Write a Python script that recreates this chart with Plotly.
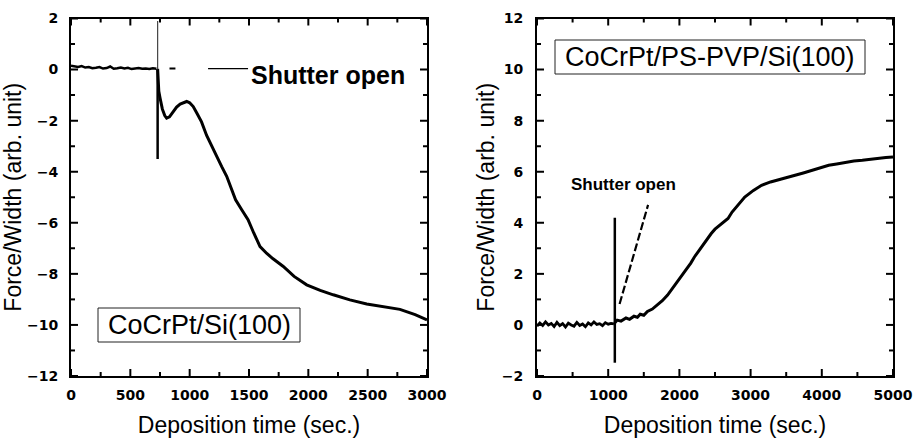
import plotly.graph_objects as go

# ---------------- data: left panel (CoCrPt/Si(100)) ----------------
left_base_time = [0, 30, 60, 90, 120, 150, 180, 210, 240, 270, 300, 330, 360, 390,
                  420, 450, 480, 510, 540, 570, 600, 630, 660, 690, 720]
left_base_force = [0.15, 0.12, 0.10, 0.14, 0.08, 0.10, 0.05, 0.07, 0.10, 0.04, 0.06, 0.12,
                   0.03, 0.05, 0.08, 0.04, 0.07, 0.02, 0.05, 0.06, 0.03, 0.04, 0.02, 0.05, 0.03]
left_dep_time = [730, 740, 750, 770, 790, 806, 830, 860, 890, 920, 950, 975, 1000, 1030,
                 1060, 1100, 1143, 1190, 1228, 1270, 1312, 1350, 1387, 1440, 1492, 1540,
                 1593, 1650, 1700, 1789, 1880, 1986, 2100, 2210, 2350, 2492, 2640, 2772,
                 2900, 3000]
left_dep_force = [0.03, -0.85, -1.1, -1.55, -1.8, -1.9, -1.85, -1.65, -1.47, -1.35, -1.28,
                  -1.25, -1.3, -1.45, -1.7, -2.05, -2.58, -3.05, -3.4, -3.8, -4.18, -4.65,
                  -5.1, -5.5, -5.88, -6.4, -6.93, -7.2, -7.4, -7.71, -8.1, -8.43, -8.65,
                  -8.82, -9.02, -9.18, -9.3, -9.39, -9.6, -9.8]
left_shutter_time = 730
left_spike_top = 1.9
left_spike_bottom = -3.5
left_leader_time = [1155, 1492]
left_leader_force = [0.04, 0.04]
left_dash_time = [830, 880]
left_dash_force = [0.04, 0.04]

# ---------------- data: right panel (CoCrPt/PS-PVP/Si(100)) ----------------
right_base_time = [0, 40, 80, 120, 160, 200, 240, 280, 320, 360, 400, 440, 480, 520, 560,
                   600, 640, 680, 720, 760, 800, 840, 880, 920, 960, 1000, 1040, 1080]
right_base_force = [-0.05, 0.08, -0.02, 0.12, 0.0, 0.06, -0.06, 0.1, -0.03, 0.05, -0.08,
                    0.07, 0.0, -0.05, 0.1, -0.02, 0.04, -0.07, 0.08, 0.0, 0.12, 0.02, 0.05,
                    -0.03, 0.09, 0.03, 0.06, 0.04]
right_dep_time = [1093, 1127, 1180, 1250, 1300, 1362, 1410, 1450, 1500, 1551, 1620, 1693,
                  1760, 1834, 1900, 1976, 2040, 2100, 2160, 2211, 2270, 2330, 2390, 2447,
                  2500, 2560, 2620, 2683, 2740, 2800, 2860, 2918, 3040, 3154, 3280, 3400,
                  3520, 3625, 3740, 3860, 3980, 4097, 4210, 4330, 4450, 4569, 4690, 4800,
                  4900, 5000]
right_dep_force = [0.08, 0.19, 0.15, 0.27, 0.22, 0.34, 0.3, 0.42, 0.38, 0.53, 0.62, 0.78,
                   0.95, 1.17, 1.42, 1.75, 1.95, 2.2, 2.42, 2.66, 2.9, 3.12, 3.38, 3.58,
                   3.75, 3.9, 4.02, 4.17, 4.42, 4.62, 4.85, 5.01, 5.27, 5.47, 5.6, 5.7,
                   5.8, 5.86, 5.95, 6.06, 6.16, 6.25, 6.3, 6.37, 6.42, 6.45, 6.5, 6.52,
                   6.56, 6.58]
right_shutter_time = 1093
right_spike_top = 4.2
right_spike_bottom = -1.48
right_leader_time = [1160, 1560]
right_leader_force = [0.82, 4.7]

left_xrange = [0, 3000]
left_yrange = [-12, 2]
right_xrange = [0, 5000]
right_yrange = [-2, 12]
left_xticks = [0, 500, 1000, 1500, 2000, 2500, 3000]
left_xminor = [250, 750, 1250, 1750, 2250, 2750]
left_yticks = [2, 0, -2, -4, -6, -8, -10, -12]
left_yminor = [1, -1, -3, -5, -7, -9, -11]
right_xticks = [0, 1000, 2000, 3000, 4000, 5000]
right_xminor = [500, 1500, 2500, 3500, 4500]
right_yticks = [-2, 0, 2, 4, 6, 8, 10, 12]
right_yminor = [-1, 1, 3, 5, 7, 9, 11]

x_title = "Deposition time (sec.)"
y_title = "Force/Width (arb. unit)"
left_label = "CoCrPt/Si(100)"
right_label = "CoCrPt/PS-PVP/Si(100)"
shutter_text = "Shutter open"

fig = go.Figure()
BLK = "black"

YDOM = [1 - 376 / 438, 1 - 18.5 / 438]
XDOM_L = [71 / 913, 427 / 913]
XDOM_R = [537 / 913, 893 / 913]
PLOT_H = (YDOM[1] - YDOM[0]) * 438
PLOT_W = (XDOM_L[1] - XDOM_L[0]) * 913


def add_line(x, y, xa, ya, w, dash="solid", color=BLK):
    fig.add_trace(go.Scatter(x=x, y=y, xaxis=xa, yaxis=ya, mode="lines",
                             line=dict(color=color, width=w, dash=dash),
                             showlegend=False, hoverinfo="skip"))


add_line(left_base_time, left_base_force, "x", "y", 2.5)
add_line(left_dep_time, left_dep_force, "x", "y", 3)
add_line([left_shutter_time, left_shutter_time], [0, left_spike_top], "x", "y", 1.2, color="#444")
add_line([left_shutter_time, left_shutter_time], [0, left_spike_bottom], "x", "y", 2.5)
add_line(left_leader_time, left_leader_force, "x", "y", 1.2)
add_line(left_dash_time, left_dash_force, "x", "y", 2)

add_line(right_base_time, right_base_force, "x2", "y2", 2.8)
add_line(right_dep_time, right_dep_force, "x2", "y2", 3)
add_line([right_shutter_time, right_shutter_time], [right_spike_bottom, right_spike_top], "x2", "y2", 2.5)
add_line(right_leader_time, right_leader_force, "x2", "y2", 2.2, dash="8px,3px")


# inward tick marks on all four sides, built from the tick lists
def add_ticks(xa, ya, xr, yr, xmaj, xmin, ymaj, ymin):
    y_per_px = (yr[1] - yr[0]) / PLOT_H
    x_per_px = (xr[1] - xr[0]) / PLOT_W
    tx, ty = [], []
    for vals, L in [(xmaj, 7), (xmin, 4)]:
        d = L * y_per_px
        for v in vals:
            tx += [v, v, None, v, v, None]
            ty += [yr[0], yr[0] + d, None, yr[1], yr[1] - d, None]
    for vals, L in [(ymaj, 7), (ymin, 4)]:
        d = L * x_per_px
        for v in vals:
            tx += [xr[0], xr[0] + d, None, xr[1], xr[1] - d, None]
            ty += [v, v, None, v, v, None]
    fig.add_trace(go.Scatter(x=tx, y=ty, xaxis=xa, yaxis=ya, mode="lines",
                             line=dict(color=BLK, width=2), connectgaps=False,
                             showlegend=False, hoverinfo="skip"))


add_ticks("x", "y", left_xrange, left_yrange, left_xticks, left_xminor, left_yticks, left_yminor)
add_ticks("x2", "y2", right_xrange, right_yrange, right_xticks, right_xminor, right_yticks, right_yminor)

tickfont = dict(family="DejaVu Sans", size=14, color=BLK, weight="bold")
titlefont = dict(family="Liberation Sans, Arial", size=23, color=BLK)

main_common = dict(showline=True, linecolor=BLK, linewidth=2, mirror=True,
                   ticks="outside", tickcolor="rgba(0,0,0,0)",
                   showgrid=False, zeroline=False, tickfont=tickfont, automargin=False,
                   ticklabeloverflow="allow")

fig.update_layout(
    width=913, height=438,
    margin=dict(l=0, r=0, t=0, b=0),
    paper_bgcolor="white", plot_bgcolor="white",
    xaxis=dict(main_common, domain=XDOM_L, range=left_xrange, anchor="y", ticklen=5,
               tickvals=left_xticks, title=dict(text=x_title, font=titlefont, standoff=19)),
    yaxis=dict(main_common, domain=YDOM, range=left_yrange, anchor="x", ticklen=8,
               tickvals=left_yticks, title=dict(text=y_title, font=titlefont, standoff=1)),
    xaxis2=dict(main_common, domain=XDOM_R, range=right_xrange, anchor="y2", ticklen=5,
                tickvals=right_xticks, title=dict(text=x_title, font=titlefont, standoff=19)),
    yaxis2=dict(main_common, domain=YDOM, range=right_yrange, anchor="x2", ticklen=9,
                tickvals=right_yticks, title=dict(text=y_title, font=titlefont, standoff=1)),
)

for (x0, y0, x1, y1) in [(98, 308, 300, 342), (555, 40, 865, 74)]:
    fig.add_shape(type="rect", xref="paper", yref="paper",
                  x0=x0 / 913, x1=x1 / 913, y0=1 - y1 / 438, y1=1 - y0 / 438,
                  line=dict(color="#222", width=1), fillcolor="white", layer="above")

boxfont = dict(family="Liberation Sans, Arial", size=27, color=BLK)
fig.add_annotation(x=199 / 913, y=1 - 325 / 438, xref="paper", yref="paper",
                   text=left_label, showarrow=False, font=boxfont,
                   xanchor="center", yanchor="middle")
fig.add_annotation(x=710 / 913, y=1 - 57 / 438, xref="paper", yref="paper",
                   text=right_label, showarrow=False, font=boxfont,
                   xanchor="center", yanchor="middle")

fig.add_annotation(x=2166, y=-0.2, xref="x", yref="y", text=shutter_text, showarrow=False,
                   font=dict(family="Liberation Sans, Arial", size=25, color=BLK, weight="bold"),
                   xanchor="center", yanchor="middle")
fig.add_annotation(x=1221, y=5.48, xref="x2", yref="y2", text=shutter_text, showarrow=False,
                   font=dict(family="Liberation Sans, Arial", size=17, color=BLK, weight="bold"),
                   xanchor="center", yanchor="middle")

fig.write_html("out.html", config={"displayModeBar": False},
               post_script="document.body.style.margin='0px';")
